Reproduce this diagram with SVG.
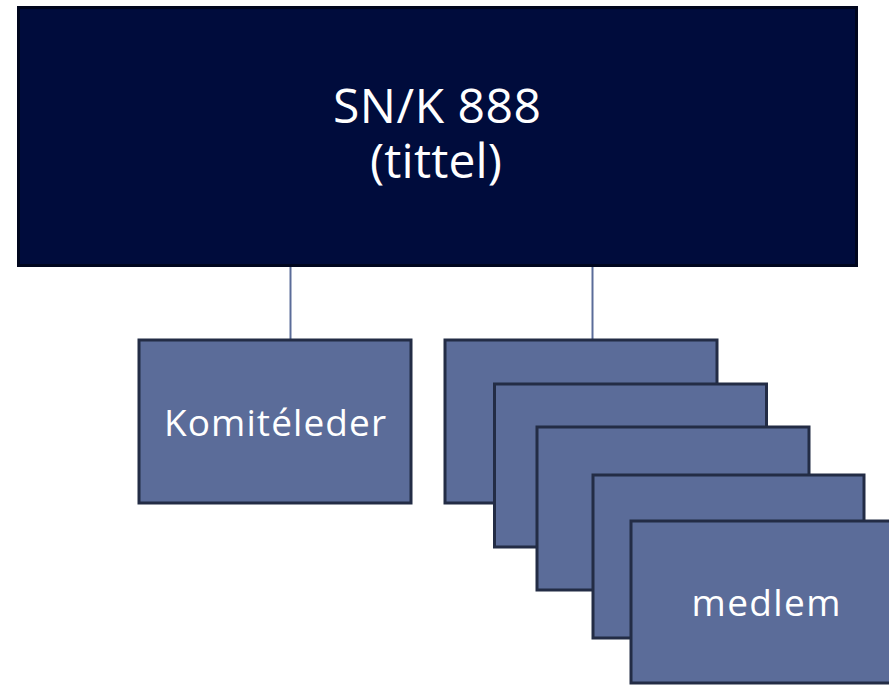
<svg xmlns="http://www.w3.org/2000/svg" width="889" height="685" viewBox="0 0 889 685">
  <style>
    .title { fill: #000c3c; stroke: #00061e; stroke-width: 3; }
    .box { fill: #5b6c99; stroke: #232c45; stroke-width: 3; }
    .lbl { fill: #ffffff; font-family: "Open Sans", "Liberation Sans", sans-serif; text-anchor: middle; }
    .conn { stroke: #5b6c99; stroke-width: 2; fill: none; }
  </style>
  <rect width="889" height="685" fill="#ffffff"/>
  <g id="connectors">
    <line class="conn" x1="290.5" y1="264" x2="290.5" y2="340"/>
    <line class="conn" x1="592.5" y1="262" x2="592.5" y2="340"/>
  </g>
  <g id="node-title">
    <rect class="title" x="18.5" y="7.5" width="838" height="258"/>
    <text class="lbl" x="437" y="123" font-size="48" textLength="208" lengthAdjust="spacing">SN/K 888</text>
    <text class="lbl" x="436" y="178" font-size="48" textLength="132" lengthAdjust="spacing">(tittel)</text>
  </g>
  <g id="node-komiteleder">
    <rect class="box" x="139" y="340" width="272" height="163"/>
    <text class="lbl" x="275" y="436" font-size="37" textLength="222" lengthAdjust="spacing">Komitéleder</text>
  </g>
  <g id="node-medlem-1">
    <rect class="box" x="445" y="340" width="272" height="163"/>
  </g>
  <g id="node-medlem-2">
    <rect class="box" x="494.5" y="384" width="272" height="163"/>
  </g>
  <g id="node-medlem-3">
    <rect class="box" x="537" y="427" width="272" height="163"/>
  </g>
  <g id="node-medlem-4">
    <rect class="box" x="593" y="475" width="271" height="163"/>
  </g>
  <g id="node-medlem-5">
    <rect class="box" x="631" y="521" width="272" height="162"/>
    <text class="lbl" x="766" y="616" font-size="37" textLength="149" lengthAdjust="spacing">medlem</text>
  </g>
</svg>
